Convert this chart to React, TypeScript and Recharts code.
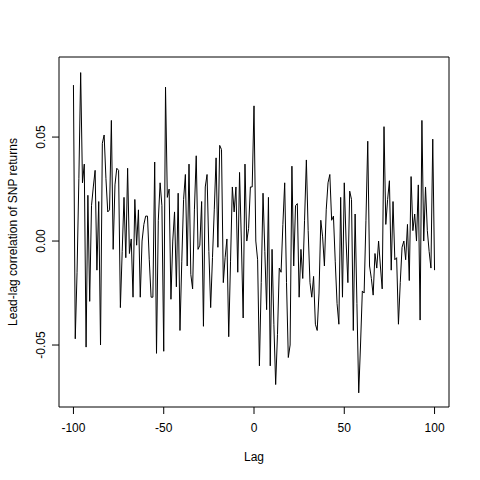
import { LineChart, Line, XAxis, YAxis, ReferenceArea } from "recharts";

// lead-lag correlation, lag -100 .. 100
const lags = Array.from({ length: 201 }, (_, i) => i - 100);

const corrNeg = [
  0.075, -0.047, -0.015, 0.03, 0.081, 0.028, 0.037, -0.051, 0.022, -0.029,
  0.017, 0.026, 0.034, -0.014, 0.019, -0.05, 0.047, 0.051, 0.03, 0.014,
  0.015, 0.058, -0.004, 0.027, 0.035, 0.034, -0.032, -0.005, 0.021, -0.008,
  0.035, -0.006, 0.001, -0.027, 0.02, -0.002, 0.015, -0.027, 0.0, 0.008,
  0.012, 0.012, -0.009, -0.027, -0.027, 0.038, -0.054, 0.01, 0.028, 0.017,
  -0.053, 0.074, 0.021, 0.025, -0.028, 0.0, 0.014, -0.022, 0.023, -0.043,
  -0.01, 0.02, 0.032, -0.012, 0.037, -0.016, -0.023, 0.015, 0.041, -0.004,
  -0.002, 0.019, -0.041, 0.026, 0.032, -0.005, -0.032, -0.008, 0.015, 0.04,
  -0.003, 0.046, 0.044, -0.02, -0.008, 0.001, -0.046, -0.01, 0.026, 0.014,
  0.026, -0.015, 0.033, 0.0, -0.037, 0.037, 0.0, 0.006, 0.026, 0.026,
];
const corrZero = [0.065];
const corrPos = [
  0.0, -0.009, -0.06, -0.02, 0.023, -0.005, -0.033, 0.021, -0.06, -0.004,
  -0.04, -0.069, -0.045, -0.013, -0.015, 0.008, 0.028, -0.02, -0.056, -0.05,
  0.036, -0.012, 0.017, 0.018, -0.027, -0.004, -0.018, 0.01, 0.039, 0.005,
  -0.02, -0.027, -0.017, -0.04, -0.043, -0.025, 0.01, 0.002, -0.012, 0.015,
  0.028, 0.032, 0.01, 0.012, -0.01, -0.03, -0.04, 0.021, -0.027, 0.028,
  0.0, -0.02, 0.024, 0.02, -0.043, 0.013, -0.03, -0.073, -0.05, -0.024,
  -0.025, 0.01, 0.048, -0.012, -0.018, -0.026, -0.006, -0.013, 0.0, -0.012,
  -0.023, 0.055, 0.008, 0.02, 0.029, -0.014, 0.019, -0.009, -0.008, -0.04,
  -0.02, -0.003, 0.0, -0.009, 0.008, -0.019, 0.031, 0.005, 0.013, 0.0,
  0.027, -0.038, 0.058, 0.0, 0.026, 0.005, -0.005, -0.013, 0.049, -0.014,
];
const corr = [...corrNeg, ...corrZero, ...corrPos];

const xTicks = [-100, -50, 0, 50, 100];
const yTicks = [-0.05, 0, 0.05];

const data = lags.map((lag, i) => ({ lag, value: corr[i] }));

const font = "'Liberation Sans', Arial, sans-serif";

const XTick = ({ x, payload }: any) => (
  <text x={x} y={432} textAnchor="middle" fontSize={12} fontFamily={font} fill="#000">
    {payload.value}
  </text>
);

const YTick = ({ y, payload }: any) => (
  <text
    x={45}
    y={y}
    textAnchor="middle"
    fontSize={12}
    fontFamily={font}
    fill="#000"
    transform={`rotate(-90, 45, ${y})`}
  >
    {Number(payload.value).toFixed(2)}
  </text>
);

export default function App() {
  return (
    <div style={{ position: "absolute", left: 0, top: 0, background: "#fff" }}>
      <LineChart
        width={480}
        height={480}
        data={data}
        margin={{ top: 57, right: 31, bottom: 33, left: 0 }}
      >
        <XAxis
          dataKey="lag"
          type="number"
          domain={[-108, 108]}
          ticks={xTicks}
          tick={<XTick />}
          tickSize={7}
          height={40}
          stroke="#000"
          axisLine={false}
          tickLine={{ stroke: "#000" }}
          label={() => (
            <text x={254} y={461} textAnchor="middle" fontSize={12} fontFamily={font} fill="#000">
              Lag
            </text>
          )}
        />
        <YAxis
          type="number"
          domain={[-0.0798, 0.0885]}
          allowDataOverflow
          ticks={yTicks}
          tick={<YTick />}
          tickSize={7}
          width={59}
          axisLine={false}
          tickLine={{ stroke: "#000" }}
          label={() => (
            <text
              x={17}
              y={232}
              textAnchor="middle"
              fontSize={12}
              fontFamily={font}
              fill="#000"
              transform="rotate(-90, 17, 232)"
            >
              Lead-lag correlation of SNP returns
            </text>
          )}
        />
        <ReferenceArea
          x1={-108}
          x2={108}
          y1={-0.0798}
          y2={0.0885}
          fill="none"
          stroke="#000"
          strokeWidth={1}
          fillOpacity={0}
        />
        <Line
          type="linear"
          dataKey="value"
          stroke="#000"
          strokeWidth={1}
          dot={false}
          isAnimationActive={false}
        />
      </LineChart>
    </div>
  );
}
